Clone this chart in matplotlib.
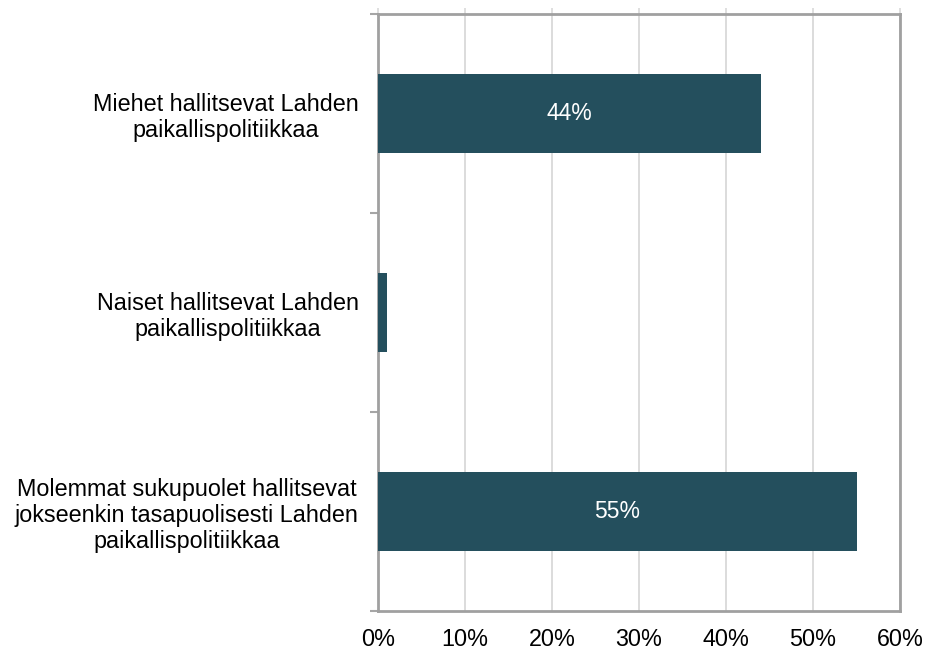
import matplotlib
matplotlib.use("Agg")
import matplotlib.pyplot as plt
from matplotlib.ticker import FixedLocator

categories = [
    "Miehet hallitsevat Lahden\npaikallispolitiikkaa",
    "Naiset hallitsevat Lahden\npaikallispolitiikkaa",
    "Molemmat sukupuolet hallitsevat\njokseenkin tasapuolisesti Lahden\npaikallispolitiikkaa",
]
values = [44, 1, 55]
value_labels = ["44%", "", "55%"]
x_ticks = [0, 10, 20, 30, 40, 50, 60]
x_tick_labels = ["0%", "10%", "20%", "30%", "40%", "50%", "60%"]

plt.rcParams['font.family'] = ['Liberation Sans', 'DejaVu Sans']

fig = plt.figure(figsize=(9.26, 6.51), dpi=100)
ax = fig.add_axes([378/926, 1-611/651, (900-378)/926, (611-14)/651])

bar_color = '#244f5d'
ypos = list(range(len(categories)))
ax.barh(ypos, values, height=0.4, color=bar_color, zorder=3)
for y, v, lab in zip(ypos, values, value_labels):
    if lab:
        ax.text(v/2, y, lab, ha='center', va='center', color='white', fontsize=16.5, zorder=4)

ax.set_xlim(0, 60)
ax.set_ylim(2.5, -0.5)
ax.set_xticks(x_ticks)
ax.set_xticklabels(x_tick_labels, fontsize=16.8)
ax.set_yticks(ypos)
ax.set_yticklabels(categories, fontsize=16.8, ha='right', multialignment='center', linespacing=1.15)
ax.tick_params(axis='y', which='major', length=0, pad=14)
ax.yaxis.set_minor_locator(FixedLocator([-0.5, 0.5, 1.5, 2.5]))
ax.tick_params(axis='y', which='minor', length=5.5, width=1.5, color='#a6a6a6', direction='out')
ax.tick_params(axis='x', which='major', bottom=False, top=True, length=4, width=1.2, color='#d9d9d9', pad=8, labelbottom=True, labeltop=False)

ax.grid(axis='x', color='#d9d9d9', linewidth=1.3, zorder=0)
for s in ax.spines.values():
    s.set_color('#a0a0a0')
    s.set_linewidth(2)

fig.savefig('out.png', dpi=100)
